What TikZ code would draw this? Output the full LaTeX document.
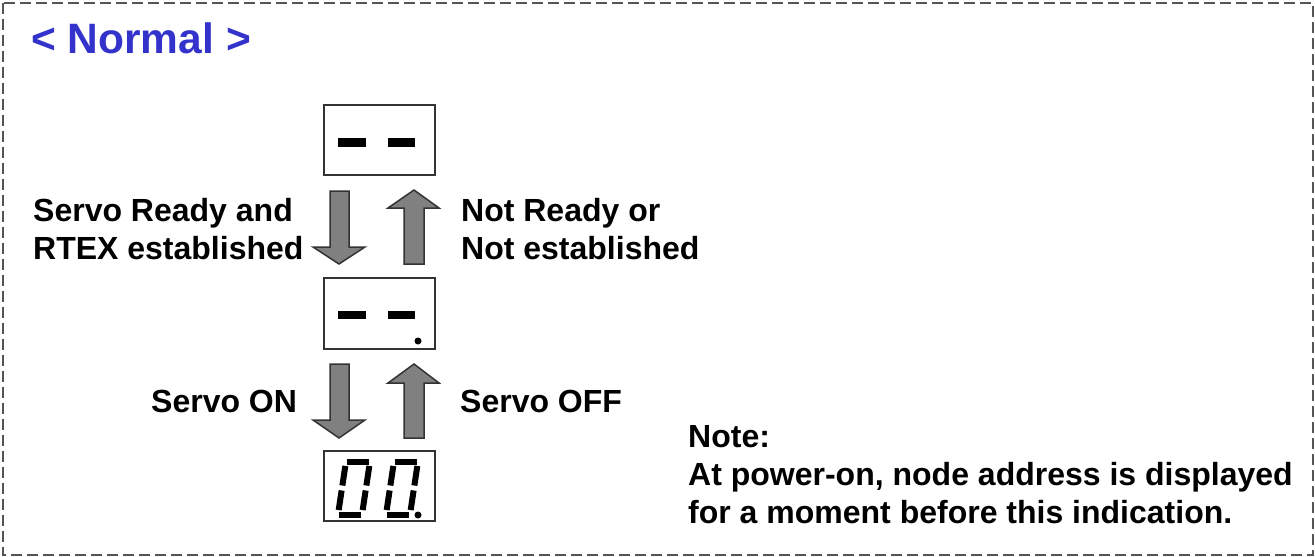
\documentclass[tikz,border=0pt]{standalone}
\usepackage{fontspec}
\setmainfont{Liberation Sans}
\usetikzlibrary{calc}
\definecolor{titleblue}{HTML}{3333CC}
\definecolor{framegray}{HTML}{555555}
\definecolor{edgegray}{HTML}{333333}
\definecolor{arrowfill}{HTML}{808080}
\tikzset{
  frame/.style={draw=framegray,line width=2,dash pattern=on 11 off 5},
  dispbox/.style={draw=edgegray,line width=2,fill=white},
  bar/.style={fill=black,draw=none},
  seg/.style={line width=6,line cap=butt,black},
  bigarrow/.style={draw=edgegray,line width=1.5,fill=arrowfill,line join=miter},
  lbl/.style={font=\fontsize{32}{38}\selectfont\bfseries,anchor=base west,inner sep=0},
  ttl/.style={font=\fontsize{42.5}{50}\selectfont\bfseries,text=titleblue,anchor=base west,inner sep=0}
}
\newcommand{\segzero}[3]{% name prefix, x of bottom-left centre, y of bottom centre
  \coordinate (#1BL) at (#2,#3);
  \coordinate (#1BR) at (#2+24,#3);
  \coordinate (#1ML) at (#2+4,#3-26.5);
  \coordinate (#1MR) at (#2+28,#3-26.5);
  \coordinate (#1TL) at (#2+8,#3-53);
  \coordinate (#1TR) at (#2+32,#3-53);
  \draw[seg] ($(#1TL)!1pt!(#1TR)$) -- ($(#1TR)!1pt!(#1TL)$);
  \draw[seg] ($(#1BL)!1pt!(#1BR)$) -- ($(#1BR)!1pt!(#1BL)$);
  \draw[seg] ($(#1TL)!4.5pt!(#1ML)$) -- ($(#1ML)!2.5pt!(#1TL)$);
  \draw[seg] ($(#1ML)!2.5pt!(#1BL)$) -- ($(#1BL)!4.5pt!(#1ML)$);
  \draw[seg] ($(#1TR)!4.5pt!(#1MR)$) -- ($(#1MR)!2.5pt!(#1TR)$);
  \draw[seg] ($(#1MR)!2.5pt!(#1BR)$) -- ($(#1BR)!4.5pt!(#1MR)$);
}
\begin{document}
\begin{tikzpicture}[x=1pt,y=-1pt]
\useasboundingbox (0,0) rectangle (1315,557);
% frame
\draw[frame] (3,3) rectangle (1313,555);
% title
\node[ttl] (title) at (31,53) {< Normal >};
% display boxes
\node[dispbox,minimum width=111,minimum height=70,inner sep=0] (box1) at (379.5,140) {};
\node[dispbox,minimum width=111,minimum height=71,inner sep=0] (box2) at (379.5,313.5) {};
\node[dispbox,minimum width=111,minimum height=70,inner sep=0] (box3) at (379.5,486) {};
% box1 content
\fill[bar] (338,138) rectangle (366,147);
\fill[bar] (388,138) rectangle (415,147);
% box2 content
\fill[bar] (338,311) rectangle (366,319);
\fill[bar] (388,311) rectangle (415,319);
\fill[black] (418,341) circle (3.5);
% box3 content: seven-segment 00.
\segzero{da}{338}{514.5}
\segzero{db}{386}{514.5}
\fill[black] (418,515) circle (3.5);
% arrows row 1
\draw[bigarrow] (330,191) -- (349,191) -- (349,247) -- (365,247) -- (339,264) -- (313,247) -- (330,247) -- cycle;
\draw[bigarrow] (404,264) -- (424,264) -- (424,208) -- (439,208) -- (414,190) -- (388,208) -- (404,208) -- cycle;
% arrows row 2
\draw[bigarrow] (330,364) -- (349,364) -- (349,420) -- (365,420) -- (339,438) -- (313,420) -- (330,420) -- cycle;
\draw[bigarrow] (404,438) -- (424,438) -- (424,383) -- (439,383) -- (414,364) -- (388,383) -- (404,383) -- cycle;
% labels
\node[lbl] (l1a) at (33,221) {Servo Ready and};
\node[lbl] (l1b) at (33,259) {RTEX established};
\node[lbl] (r1a) at (461,221) {Not Ready or};
\node[lbl] (r1b) at (461,259) {Not established};
\node[lbl] (l2) at (151,412) {Servo ON};
\node[lbl] (r2) at (460,412) {Servo OFF};
\node[lbl] (n1) at (688,447) {Note:};
\node[lbl] (n2) at (688,485) {At power-on, node address is displayed};
\node[lbl] (n3) at (688,523) {for a moment before this indication.};
\end{tikzpicture}
\end{document}
